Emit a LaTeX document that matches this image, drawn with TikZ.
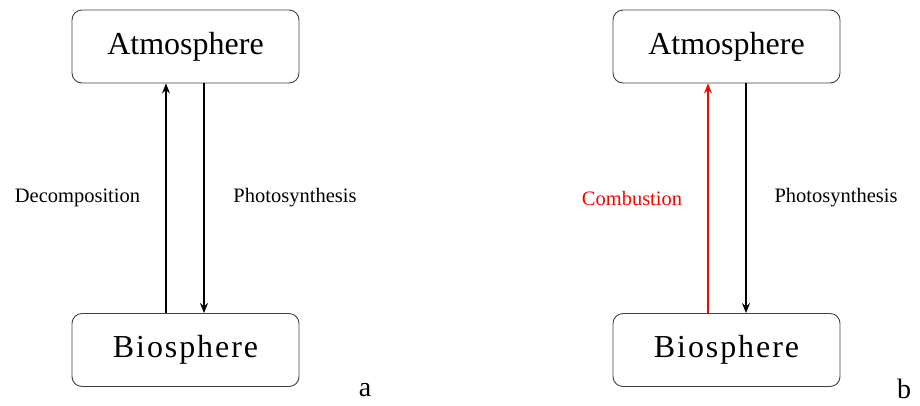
\documentclass[tikz,border=0pt]{standalone}
\usepackage{fontspec}
\setmainfont{Liberation Serif}
\usetikzlibrary{arrows.meta}
\begin{document}
\begin{tikzpicture}[x=1pt,y=-1pt,
  box/.style={draw=black!75, line width=0.9pt, rounded corners=10pt, minimum width=227pt, minimum height=73pt, inner sep=0pt, font=\fontsize{32}{36}\selectfont},
  flow/.style={line width=1.3pt, -{Stealth[length=10pt,width=8pt]}},
  lbl/.style={font=\fontsize{20.5}{24}\selectfont, inner sep=0pt},
  tag/.style={font=\fontsize{28}{30}\selectfont, inner sep=0pt}]
\useasboundingbox (0,0) rectangle (920,405);
% panel a
\node[box] (atmA) at (185.5,46.5) {Atmosphere};
\node[box] (bioA) at (185.5,350) {\addfontfeature{LetterSpace=6}Biosphere};
\draw[flow] ([xshift=-19.5pt]bioA.north) -- ([xshift=-19.5pt]atmA.south);
\draw[flow] ([xshift=18.5pt]atmA.south) -- ([xshift=18.5pt]bioA.north);
\node[lbl] (decA) at (77.5,198) {Decomposition};
\node[lbl] (phoA) at (295,198) {Photosynthesis};
\node[tag] (labA) at (365,390) {a};
% panel b
\node[box] (atmB) at (726.5,46.5) {Atmosphere};
\node[box] (bioB) at (726.5,350) {\addfontfeature{LetterSpace=6}Biosphere};
\draw[flow, red] ([xshift=-18.5pt]bioB.north) -- ([xshift=-18.5pt]atmB.south);
\draw[flow] ([xshift=19.5pt]atmB.south) -- ([xshift=19.5pt]bioB.north);
\node[lbl, text=red] (comB) at (632,198) {Combustion};
\node[lbl] (phoB) at (836,198) {Photosynthesis};
\node[tag] (labB) at (904,389) {b};
\end{tikzpicture}
\end{document}
